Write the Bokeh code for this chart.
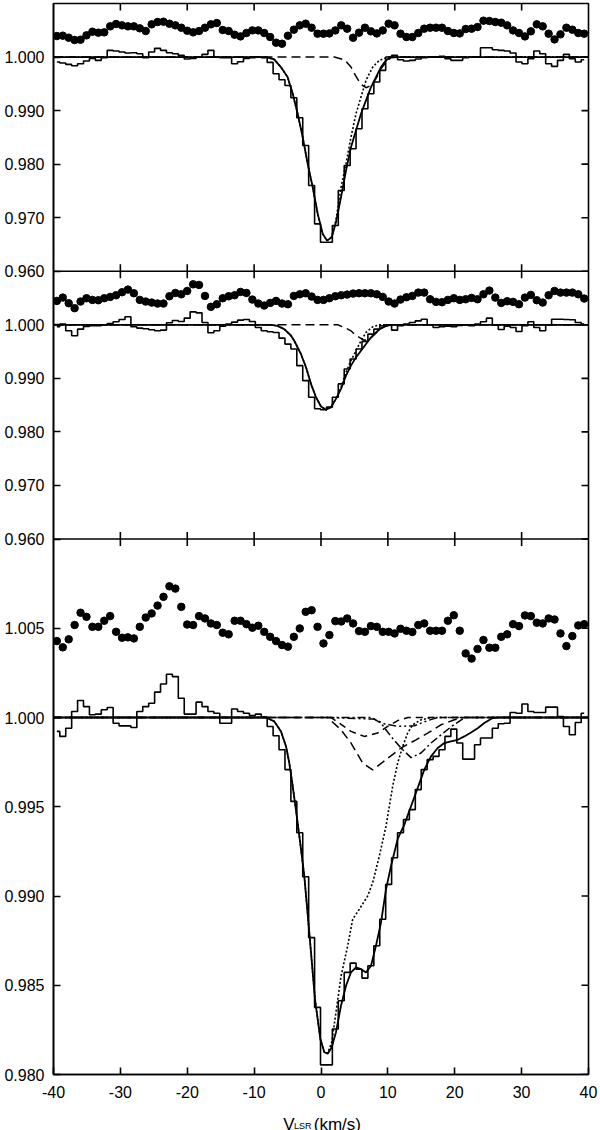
import numpy as np
from bokeh.plotting import figure
from bokeh.layouts import column
from bokeh.models import (Range1d, LinearAxis, FixedTicker, Span, CustomJSTickFormatter)
from bokeh.core.properties import value
from bokeh.embed import file_html
from bokeh.resources import INLINE

# ---------------- data ----------------
# velocity bin centres (km/s), common to the three spectra
vel = np.round(-39.5 + 0.886 * np.arange(90), 3)

# ---- top panel ----
specA = [0.99907, 0.99888, 0.99863, 0.99838, 0.99875, 0.99925, 0.99975, 0.99938, 0.99988, 1.00125,
         1.00112, 1.00093, 1.00075, 1.00081, 1.00062, 0.99988, 1.00093, 1.00162, 1.00125, 1.00081,
         1.00062, 1.00031, 0.99963, 0.99975, 1.00000, 1.00050, 1.00125, 1.00000, 0.99988, 0.99988,
         0.99875, 0.99913, 0.99975, 0.99988, 1.00000, 0.99988,
         0.99900, 0.99689, 0.99576, 0.99470, 0.99240, 0.98866, 0.98349, 0.97601, 0.96885, 0.96542,
         0.96542, 0.96854, 0.97508, 0.97975, 0.98287, 0.98661, 0.99034, 0.99315, 0.99533, 0.99751,
         1.00000, 1.00031,
         0.99950, 0.99925, 0.99938, 0.99963, 0.99988, 1.00000, 1.00000, 1.00012, 0.99969, 0.99938,
         0.99938, 0.99988, 1.00000, 1.00000, 1.00174, 1.00174, 1.00137, 1.00125, 1.00112, 1.00075,
         0.99907, 0.99875, 0.99969, 1.00112, 1.00062, 0.99875, 0.99826, 0.99938, 1.00050, 0.99969,
         0.99907, 0.99950]
residA = [1.00392, 1.00399, 1.00361, 1.00318, 1.00324, 1.00405, 1.00473, 1.00455, 1.00461, 1.00573,
          1.00617, 1.00592, 1.00573, 1.00573, 1.00536, 1.00486, 1.00611, 1.00654, 1.00660, 1.00623,
          1.00592, 1.00548, 1.00492, 1.00461, 1.00486, 1.00548, 1.00611, 1.00635, 1.00505, 1.00486,
          1.00417, 1.00386, 1.00449, 1.00498, 1.00498, 1.00449, 1.00374, 1.00268, 1.00249, 1.00399,
          1.00511, 1.00592,
          1.00623, 1.00548, 1.00436, 1.00436, 1.00442, 1.00498, 1.00592, 1.00530, 1.00361, 1.00455,
          1.00548, 1.00480, 1.00442, 1.00498, 1.00623, 1.00592, 1.00436, 1.00374, 1.00374, 1.00449,
          1.00530, 1.00548, 1.00548, 1.00548, 1.00486, 1.00449, 1.00442, 1.00523, 1.00530, 1.00561,
          1.00679, 1.00673, 1.00654, 1.00642, 1.00592, 1.00498, 1.00449, 1.00386, 1.00480, 1.00611,
          1.00573, 1.00436, 1.00330, 1.00424, 1.00548, 1.00511, 1.00449, 1.00436]
fitA_x = [-40, -8.2, -7.0, -6.0, -5.0, -4.23, -3.49, -2.74, -1.99, -1.24, -0.49, 0.26, 0.9, 1.6,
          2.24, 2.99, 3.74, 4.48, 5.23, 5.98, 6.73, 7.48, 8.22, 8.97, 9.72, 10.47, 40]
fitA_y = [1.0, 1.0, 0.99956, 0.99813, 0.99626, 0.99315, 0.98941, 0.98504, 0.98006, 0.97569, 0.97072,
          0.96698, 0.96572, 0.96634, 0.96915, 0.97382, 0.97881, 0.98317, 0.98629, 0.98941, 0.99190,
          0.99439, 0.99626, 0.99813, 0.99938, 1.0, 1.0]
dotA_x = [-40, -8.2, -7.0, -6.0, -5.0, -4.23, -3.49, -2.74, -1.99, -1.24, -0.49, 0.26, 0.9, 1.6,
          2.24, 2.99, 3.74, 4.48, 5.23, 5.98, 6.73, 7.73, 8.72, 9.97, 40]
dotA_y = [1.0, 1.0, 0.99956, 0.99813, 0.99626, 0.99315, 0.98941, 0.98504, 0.98006, 0.97569, 0.97072,
          0.96698, 0.96572, 0.96640, 0.96960, 0.97569, 0.98006, 0.98504, 0.98941, 0.99252, 0.99564,
          0.99813, 0.99938, 1.0, 1.0]
dashA_x = [-40, 2.0, 3.49, 4.49, 5.23, 5.98, 6.73, 7.48, 8.22, 8.97, 9.72, 10.47, 11.5, 40]
dashA_y = [1.0, 1.0, 0.99950, 0.99813, 0.99639, 0.99489, 0.99427, 0.99471, 0.99596, 0.99782,
           0.99907, 0.99988, 1.0, 1.0]

# ---- middle panel ----
specB = [0.99963, 1.00012, 0.99888, 0.99795, 0.99919, 0.99969, 0.99981, 0.99981, 1.00000, 1.00025,
         1.00056, 1.00099, 1.00149, 0.99963, 0.99938, 0.99926, 0.99907, 0.99888, 0.99901, 1.00037,
         1.00081, 1.00062, 1.00124, 1.00242, 1.00223, 1.00043, 0.99851, 0.99888, 0.99975, 1.00012,
         1.00050, 1.00087, 1.00099, 1.00062, 0.99950, 0.99888,
         0.99870, 0.99857, 0.99752, 0.99640, 0.99547, 0.99237, 0.98958, 0.98648, 0.98431, 0.98413,
         0.98462, 0.98648, 0.98896, 0.99175, 0.99361, 0.99547, 0.99690, 0.99826, 0.99919, 0.99981,
         1.00000, 0.99900,
         0.99981, 1.00012, 1.00043, 1.00074, 1.00105, 1.00000, 0.99950, 0.99963, 0.99975, 0.99963,
         0.99988, 1.00000, 0.99981, 1.00012, 1.00056, 1.00124, 1.00000, 0.99913, 0.99975, 0.99950,
         0.99876, 0.99981, 1.00056, 0.99950, 0.99888, 1.00000, 1.00105, 1.00105, 1.00099, 1.00093,
         1.00043, 1.00012]
residB = [1.00446, 1.00508, 1.00403, 1.00310, 1.00434, 1.00496, 1.00465, 1.00459, 1.00496, 1.00521,
          1.00552, 1.00608, 1.00657, 1.00589, 1.00465, 1.00434, 1.00415, 1.00397, 1.00397, 1.00533,
          1.00595, 1.00570, 1.00632, 1.00756, 1.00744, 1.00539, 1.00335, 1.00384, 1.00496, 1.00533,
          1.00552, 1.00614, 1.00595, 1.00471, 1.00397, 1.00360, 1.00409, 1.00446, 1.00397, 1.00384,
          1.00539, 1.00570,
          1.00589, 1.00527, 1.00465, 1.00465, 1.00496, 1.00533, 1.00552, 1.00564, 1.00583, 1.00589,
          1.00589, 1.00589, 1.00570, 1.00521, 1.00434, 1.00397, 1.00471, 1.00515, 1.00539, 1.00601,
          1.00601, 1.00477, 1.00428, 1.00422, 1.00465, 1.00496, 1.00465, 1.00477, 1.00502, 1.00477,
          1.00570, 1.00639, 1.00508, 1.00409, 1.00440, 1.00428, 1.00384, 1.00508, 1.00558, 1.00459,
          1.00415, 1.00552, 1.00632, 1.00601, 1.00601, 1.00601, 1.00570, 1.00490]
fitB_x = [-40, -7.5, -6.5, -5.5, -4.5, -4.0, -3.0, -2.24, -1.5, -0.75, 0.0, 0.75, 1.5, 2.24, 2.99,
          3.74, 4.48, 5.23, 5.98, 6.73, 7.48, 8.22, 8.97, 9.97, 11.0, 40]
fitB_y = [1.0, 1.0, 0.99980, 0.99920, 0.99800, 0.99702, 0.99455, 0.99206, 0.98897, 0.98648, 0.98475,
          0.98413, 0.98462, 0.98618, 0.98804, 0.99051, 0.99237, 0.99392, 0.99516, 0.99641, 0.99765,
          0.99857, 0.99938, 0.99988, 1.0, 1.0]
dotB_x = [-40, -7.5, -6.5, -5.5, -4.5, -4.0, -3.0, -2.24, -1.5, -0.75, 0.0, 0.75, 1.5, 2.24, 2.99,
          3.74, 4.48, 5.23, 5.98, 6.73, 7.73, 8.7, 40]
dotB_y = [1.0, 1.0, 0.99980, 0.99920, 0.99800, 0.99702, 0.99455, 0.99206, 0.98897, 0.98648, 0.98475,
          0.98413, 0.98462, 0.98625, 0.98830, 0.99113, 0.99330, 0.99516, 0.99702, 0.99857, 0.99963,
          1.0, 1.0]
dashB_x = [-40, 2.5, 4.0, 4.48, 5.0, 5.73, 6.38, 7.0, 7.5, 8.5, 9.5, 10.5, 40]
dashB_y = [1.0, 1.0, 0.99920, 0.99888, 0.99827, 0.99764, 0.99715, 0.99720, 0.99760, 0.99880,
           0.99970, 1.0, 1.0]

# ---- bottom panel ----
specC = [0.99922, 0.99894, 0.99940, 1.00034, 1.00095, 1.00061, 1.00015, 1.00019, 1.00043, 1.00056,
         0.99968, 0.99953, 0.99953, 0.99944, 1.00034, 1.00061, 1.00080, 1.00142, 1.00188, 1.00242,
         1.00229, 1.00108, 1.00019, 1.00019, 1.00086, 1.00061, 1.00034, 1.00024, 0.99968, 0.99968,
         1.00048, 1.00034, 1.00024, 1.00011, 1.00019, 1.00002, 0.99950, 0.99898, 0.99819,
         0.99708, 0.99530, 0.99354, 0.99108, 0.98767, 0.98376, 0.98054, 0.98054, 0.98255, 0.98413,
         0.98572, 0.98624, 0.98590, 0.98540, 0.98609, 0.98721, 0.98870, 0.99065, 0.99214, 0.99354,
         0.99428, 0.99484, 0.99596, 0.99708, 0.99764, 0.99782, 0.99819, 0.99894, 0.99935, 0.99857,
         0.99767, 0.99767, 0.99847, 0.99885, 0.99885, 0.99940, 0.99965, 0.99968, 1.00028, 1.00024,
         1.00076, 1.00034, 1.00028, 1.00028, 1.00058, 1.00058, 1.00006, 0.99950, 0.99903, 0.99972,
         1.00024]
residC = [1.00428, 1.00393, 1.00438, 1.00518, 1.00587, 1.00564, 1.00508, 1.00508, 1.00542, 1.00568,
          1.00480, 1.00447, 1.00449, 1.00443, 1.00508, 1.00560, 1.00583, 1.00627, 1.00676, 1.00735,
          1.00722, 1.00620, 1.00521, 1.00518, 1.00568, 1.00555, 1.00527, 1.00518, 1.00475, 1.00466,
          1.00542, 1.00542, 1.00523, 1.00503, 1.00514, 1.00480, 1.00452, 1.00428, 1.00406, 1.00397,
          1.00452, 1.00499,
          1.00592, 1.00601, 1.00508, 1.00415, 1.00462, 1.00540, 1.00538, 1.00555, 1.00527, 1.00484,
          1.00480, 1.00512, 1.00508, 1.00480, 1.00480, 1.00471, 1.00497, 1.00486, 1.00479, 1.00518,
          1.00527, 1.00486, 1.00486, 1.00486, 1.00542, 1.00573, 1.00486, 1.00359, 1.00330, 1.00384,
          1.00434, 1.00391, 1.00391, 1.00452, 1.00466, 1.00523, 1.00512, 1.00572, 1.00568, 1.00531,
          1.00527, 1.00555, 1.00549, 1.00471, 1.00400, 1.00456, 1.00516, 1.00523]
fitC_x = [-40, -8.22, -6.98, -5.98, -5.23, -4.74, -4.23, -3.74, -3.25, -2.50, -1.75, -0.90, -0.10,
          0.50, 1.00, 1.60, 2.24, 2.99, 3.74, 4.48, 5.23, 5.98, 6.73, 7.48, 8.22, 8.97, 9.72, 10.47,
          11.47, 12.46, 13.46, 14.46, 15.45, 16.45, 17.45, 18.44, 19.44, 20.44, 21.43, 22.43, 23.43,
          24.42, 25.67, 26.5, 40]
fitC_y = [1.0, 1.0, 0.99978, 0.99922, 0.99838, 0.99745, 0.99615, 0.99480, 0.99340, 0.99112, 0.98795,
          0.98423, 0.98199, 0.98125, 0.98116, 0.98153, 0.98237, 0.98385, 0.98497, 0.98572, 0.98600,
          0.98590, 0.98572, 0.98609, 0.98721, 0.98851, 0.99037, 0.99168, 0.99320, 0.99400, 0.99503,
          0.99606, 0.99708, 0.99782, 0.99829, 0.99857, 0.99866, 0.99875, 0.99894, 0.99916, 0.99940,
          0.99969, 0.99997, 1.0, 1.0]
dotC_x = [-40, -8.22, -6.98, -5.98, -5.23, -4.74, -4.23, -3.74, -3.25, -2.50, -1.75, -0.90, -0.10,
          0.50, 1.00, 1.60, 2.24, 2.99, 3.99, 4.74, 5.73, 6.98, 7.73, 8.72, 9.72, 10.22, 10.72, 11.47,
          12.21, 12.96, 13.71, 14.95, 16.5, 40]
dotC_y = [1.0, 1.0, 0.99978, 0.99922, 0.99838, 0.99745, 0.99615, 0.99480, 0.99340, 0.99112, 0.98795,
          0.98423, 0.98199, 0.98125, 0.98120, 0.98180, 0.98348, 0.98550, 0.98721, 0.98870, 0.98926,
          0.99000, 0.99075, 0.99223, 0.99391, 0.99503, 0.99615, 0.99745, 0.99838, 0.99913, 0.99959,
          0.99987, 1.0, 1.0]
dashC1_x = [-40, 0.97, 2.99, 4.49, 6.23, 7.73, 9.72, 11.96, 14.21, 15.96, 17.94, 19.93, 21.4, 40]
dashC1_y = [1.0, 1.0, 0.99931, 0.99857, 0.99745, 0.99706, 0.99764, 0.99829, 0.99875, 0.99912,
            0.99959, 0.99987, 1.0, 1.0]
dashC2_x = [-40, 1.5, 2.0, 4.49, 6.47, 8.47, 9.97, 11.47, 13.0, 40]
dashC2_y = [1.0, 1.0, 0.99987, 0.99922, 0.99894, 0.99913, 0.99950, 0.99983, 1.0, 1.0]
dashdotC_x = [-40, 7.5, 8.97, 10.47, 11.96, 13.46, 14.95, 16.45, 17.94, 19.9, 21.5, 40]
dashdotC_y = [1.0, 1.0, 0.99969, 0.99894, 0.99829, 0.99775, 0.99801, 0.99857, 0.99903, 0.99960,
              1.0, 1.0]
dashdotdotC_x = [-40, 0.97, 7.97, 9.47, 11.47, 13.96, 15.96, 17.5, 40]
dashdotdotC_y = [1.0, 1.0, 0.99991, 0.99965, 0.99950, 0.99954, 0.99983, 1.0, 1.0]

# axis ticks
x_ticks = [-40, -30, -20, -10, 0, 10, 20, 30, 40]
ticksA = [0.960, 0.970, 0.980, 0.990, 1.000]
ticksB = [0.960, 0.970, 0.980, 0.990, 1.000]
ticksC = [0.980, 0.985, 0.990, 0.995, 1.000, 1.005]
x_title = ["V", "LSR", "(km/s)"]

# ---------------- geometry ----------------
FRAME_W, FRAME_H = 535, 1071
BORDER_L, BORDER_R, BORDER_T, BORDER_B = 53, 12, 3, 30
STRIP_H = 1130 - (BORDER_T + FRAME_H + BORDER_B)     # thin strip holding the x title
X_LO, X_HI = -40, 40
U_MAX = 4.0           # common vertical coordinate: bottom panel [0,2], middle [2,3], top [3,4]
rangeA = (0.960, 1.010)
rangeB = (0.960, 1.010)
rangeC = (0.980, 1.010)

def u_of(v, lo, hi, u0, du):
    return u0 + (v - lo) / (hi - lo) * du

def extra_range(lo, hi, u0, du):
    s = (hi - lo) / du
    return Range1d(lo - u0 * s, lo + (U_MAX - u0) * s)

FONT = "Liberation Sans"
LW = 1.6
p = figure(frame_width=FRAME_W, frame_height=FRAME_H,
           x_range=Range1d(X_LO, X_HI), y_range=Range1d(0, U_MAX),
           x_axis_type=None, y_axis_type=None,
           output_backend="svg", toolbar_location=None,
           min_border_left=BORDER_L, min_border_right=BORDER_R,
           min_border_top=BORDER_T, min_border_bottom=BORDER_B,
           background_fill_color="white", border_fill_color="white")
p.outline_line_color = "black"
p.outline_line_width = LW

p.extra_y_ranges = {
    "A": extra_range(*rangeA, 3.0, 1.0),
    "B": extra_range(*rangeB, 2.0, 1.0),
    "C": extra_range(*rangeC, 0.0, 2.0),
}

# ---- axes (left and bottom carry the labels) ----
u_ticks = ([u_of(t, *rangeC, 0.0, 2.0) for t in ticksC] +
           [u_of(t, *rangeB, 2.0, 1.0) for t in ticksB] +
           [u_of(t, *rangeA, 3.0, 1.0) for t in ticksA])
yfmt = CustomJSTickFormatter(code="""
    let v;
    if (tick < 1.999) { v = 0.98 + tick * 0.015; }
    else if (tick < 2.999) { v = 0.96 + (tick - 2) * 0.05; }
    else { v = 0.96 + (tick - 3) * 0.05; }
    return v.toFixed(3);
""")
xfmt = CustomJSTickFormatter(code="return tick.toFixed(0);")

def style_axis(ax):
    ax.axis_line_color = "black"
    ax.axis_line_width = LW
    ax.major_tick_line_color = "black"
    ax.major_tick_line_width = LW
    ax.major_tick_in = 7
    ax.major_tick_out = 0
    ax.minor_tick_line_color = None
    ax.major_label_text_font = FONT
    ax.major_label_text_font_size = "16px"
    ax.major_label_text_color = "black"

yl = LinearAxis(ticker=FixedTicker(ticks=u_ticks), formatter=yfmt)
style_axis(yl)
yl.major_label_standoff = 9
p.add_layout(yl, "left")
xb = LinearAxis(ticker=FixedTicker(ticks=x_ticks), formatter=xfmt)
style_axis(xb)
xb.major_label_standoff = 11
p.add_layout(xb, "below")

# inward ticks on the right edge, the top edge and both sides of the panel separators
inner_x = x_ticks[1:-1]
p.scatter([X_HI] * len(u_ticks), u_ticks, marker="dash", size=14,
          line_color="black", line_width=LW)
for ub in (2.0, 3.0, U_MAX):
    if ub < U_MAX:
        p.add_layout(Span(location=ub, dimension="width", line_color="black", line_width=LW))
    p.scatter(inner_x, [ub] * len(inner_x), marker="dash", angle=np.pi / 2,
              size=14, line_color="black", line_width=LW)

# ---- glyphs ----
def panel(name, spec, resid, fit, comps):
    p.scatter(vel, resid, y_range_name=name, size=7.5, color="black")
    p.step(vel, spec, mode="center", y_range_name=name, line_color="black", line_width=LW)
    for (cx, cy, dash, w) in comps:
        p.line(cx, cy, y_range_name=name, line_color="black", line_width=w, line_dash=dash)
    p.line(fit[0], fit[1], y_range_name=name, line_color="black", line_width=1.8)

panel("A", specA, residA, (fitA_x, fitA_y),
      [(dashA_x, dashA_y, "9 5", 1.5), (dotA_x, dotA_y, "2 2", 1.6)])
panel("B", specB, residB, (fitB_x, fitB_y),
      [(dashB_x, dashB_y, "9 5", 1.5), (dotB_x, dotB_y, "2 2", 1.6)])
panel("C", specC, residC, (fitC_x, fitC_y),
      [(dashC1_x, dashC1_y, "9 5", 1.5), (dashC2_x, dashC2_y, "7 5", 1.5),
       (dashdotC_x, dashdotC_y, "8 3 2 3", 1.5), (dashdotdotC_x, dashdotdotC_y, "8 3 2 3 2 3", 1.5),
       (dotC_x, dotC_y, "2 2", 1.6)])

# ---- x axis title V_LSR (km/s), in a thin strip below the plot ----
t = figure(frame_width=FRAME_W, frame_height=STRIP_H, x_range=p.x_range,
           y_range=Range1d(0, STRIP_H),
           x_axis_type=None, y_axis_type=None, output_backend="svg", toolbar_location=None,
           min_border_left=BORDER_L, min_border_right=BORDER_R, min_border_top=0, min_border_bottom=0,
           background_fill_color="white", border_fill_color="white")
t.outline_line_color = None
t.text(x=[-5.65, -1.08], y=[6, 6], text=[x_title[0], x_title[2]], text_font=value(FONT),
       text_font_size="17px", text_baseline="alphabetic", text_color="black")
t.text(x=[-4.04], y=[5], text=[x_title[1]], text_font=value(FONT),
       text_font_size="9px", text_baseline="alphabetic", text_color="black")

layout = column(p, t, spacing=0)
open("out.html", "w").write(file_html(layout, INLINE))
